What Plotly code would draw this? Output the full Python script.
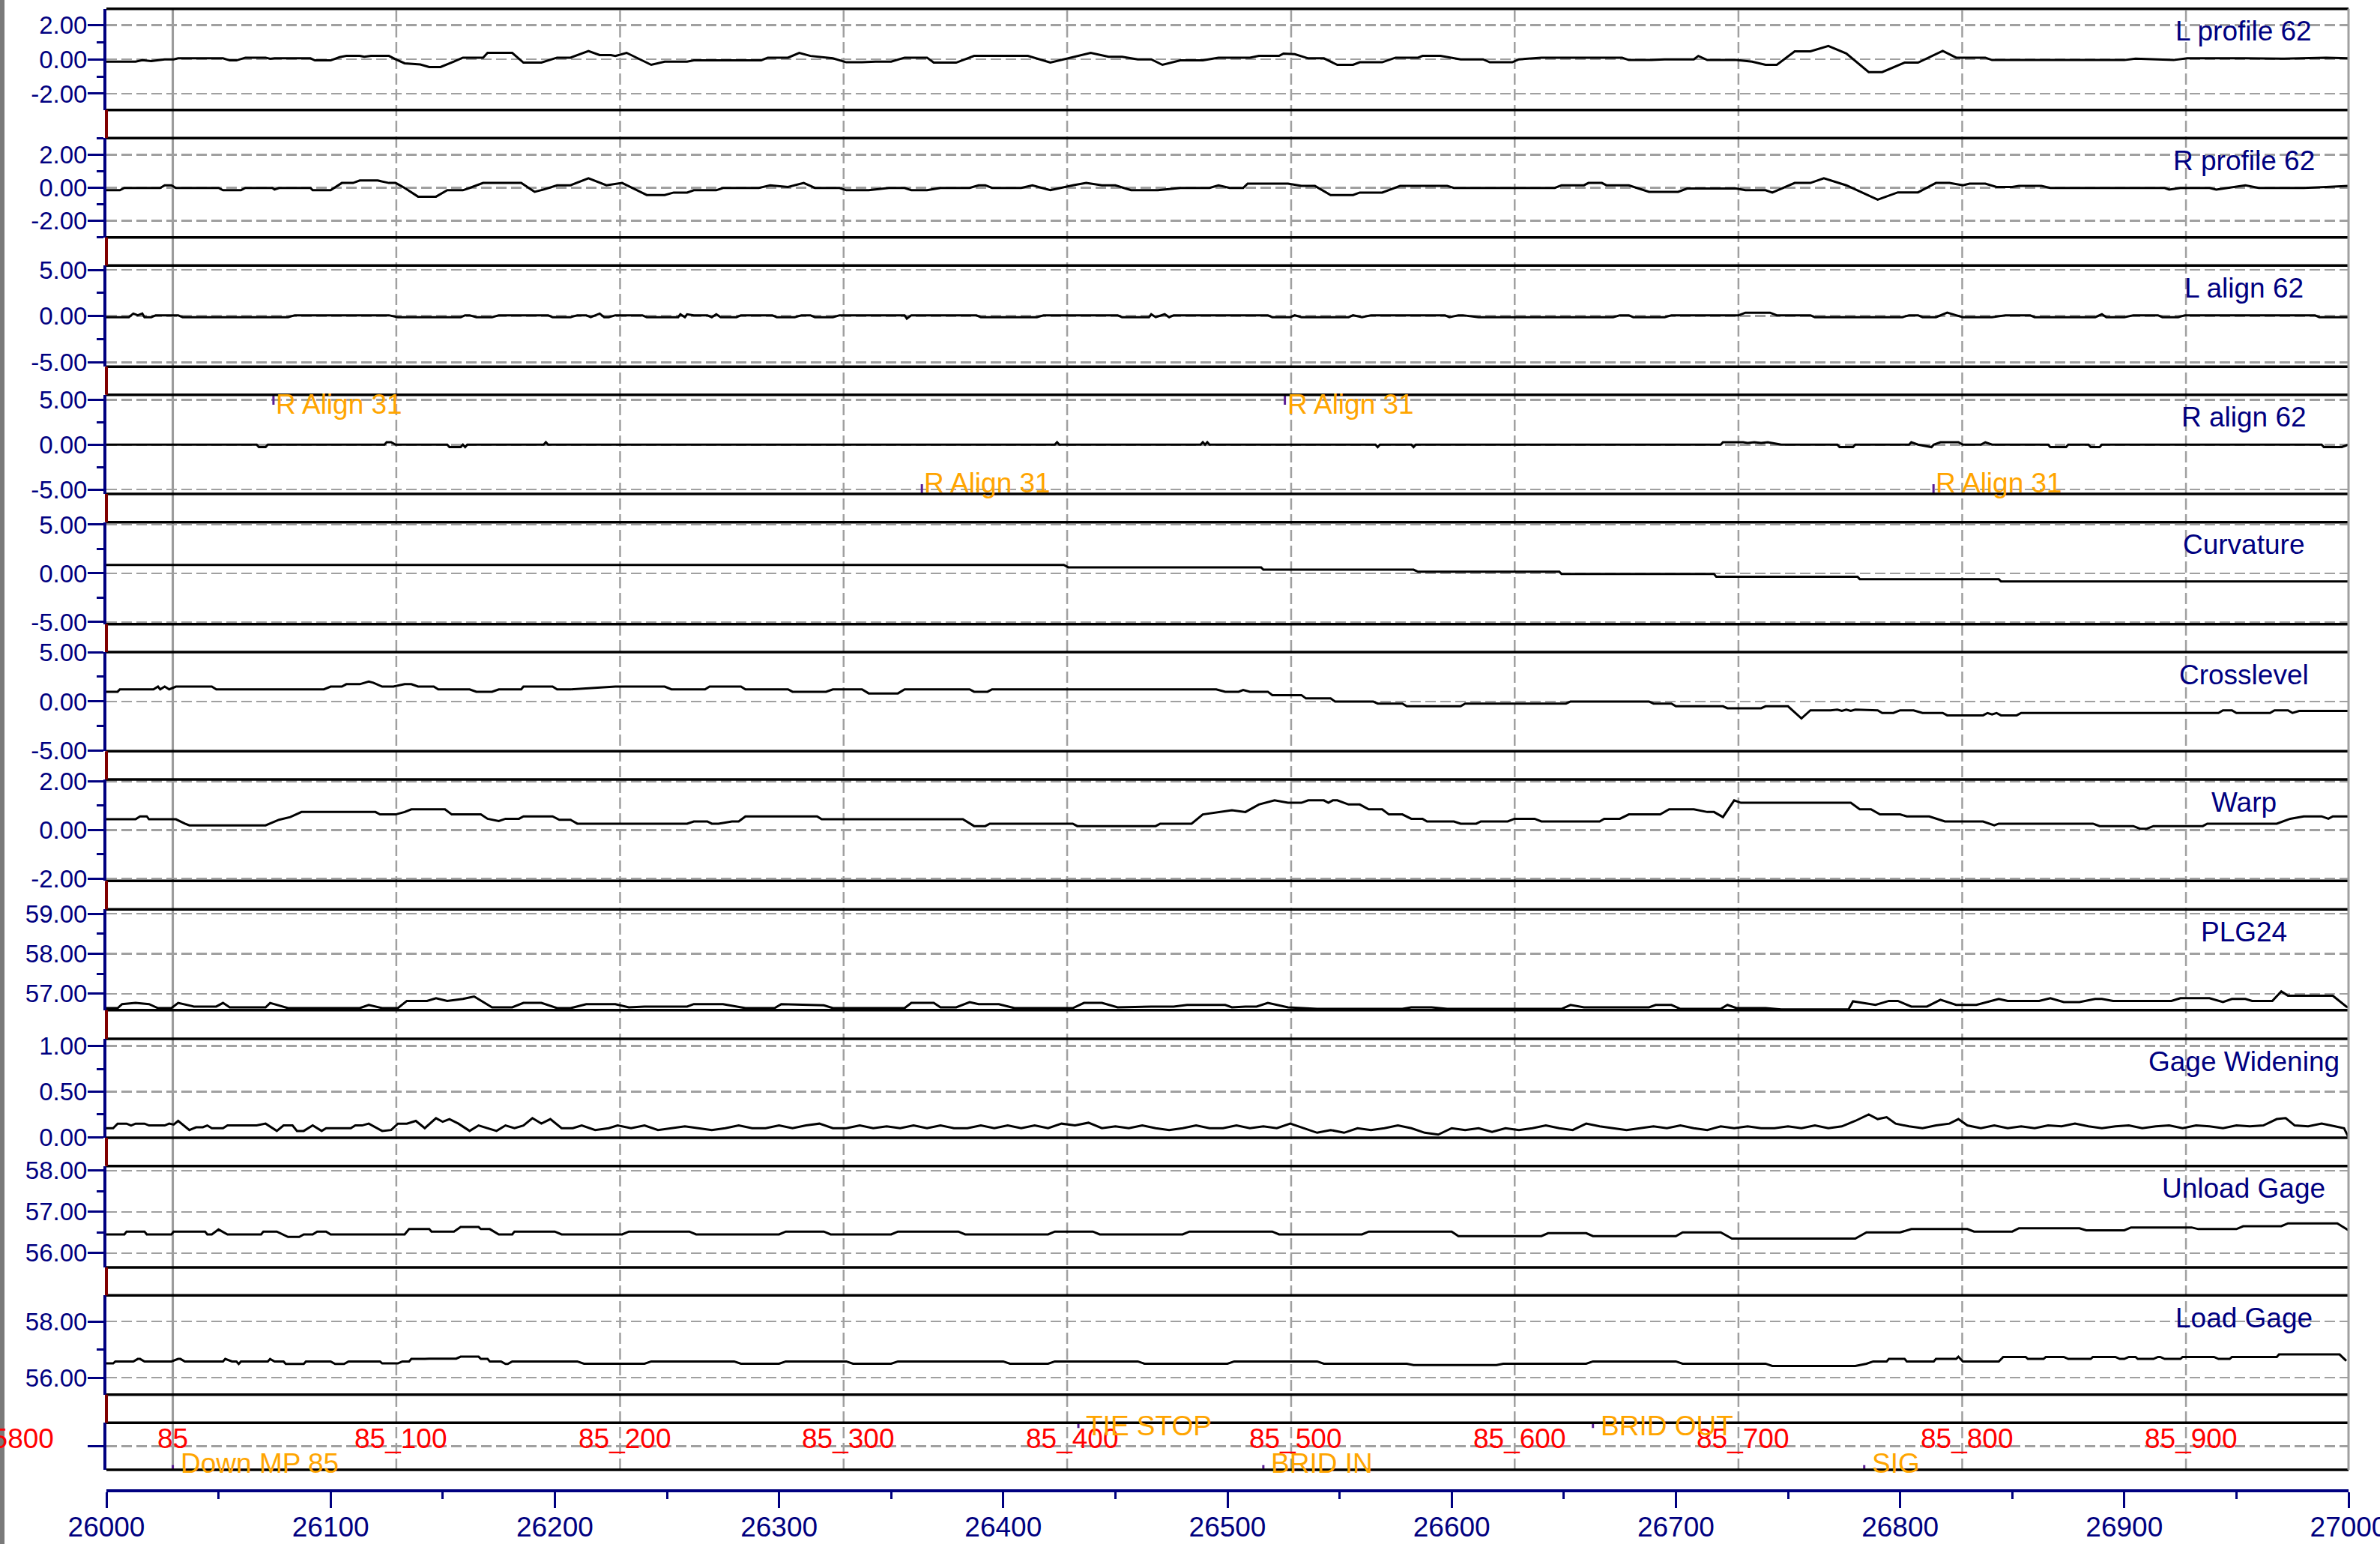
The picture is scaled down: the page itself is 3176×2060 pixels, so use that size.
import plotly.graph_objects as go

# ---------------- data ----------------
x_range = [26000, 27000]
x_tick_vals = list(range(26000, 27001, 100))

milepost_x = [26029.6, 26129.3, 26229.1, 26328.8, 26428.5, 26528.4, 26628.1, 26727.9, 26827.7, 26927.5]
milepost_labels = ["85", "85_100", "85_200", "85_300", "85_400", "85_500", "85_600", "85_700", "85_800", "85_900"]

panel_titles = ["L profile 62", "R profile 62", "L align 62", "R align 62", "Curvature", "Crosslevel",
                "Warp", "PLG24", "Gage Widening", "Unload Gage", "Load Gage"]

l_profile = [[26000,-0.13],[26013,-0.13],[26016,-0.05],[26020,-0.1],[26026,0.0],[26030,0.0],[26032,0.06],[26052,0.06],[26055,-0.06],[26058,-0.06],[26062,0.1],[26071,0.1],[26073,0.03],[26075,0.06],[26091,0.06],[26093,-0.06],[26100,-0.06],[26104,0.13],[26107,0.2],[26113,0.2],[26115,0.15],[26118,0.2],[26126,0.2],[26129,0.0],[26133,-0.23],[26140,-0.3],[26144,-0.45],[26149,-0.45],[26155,-0.13],[26159,0.1],[26168,0.1],[26170,0.38],[26181,0.38],[26186,-0.19],[26194,-0.19],[26201,0.1],[26207,0.1],[26215,0.49],[26220,0.25],[26225,0.25],[26227,0.2],[26232,0.38],[26243,-0.32],[26249,-0.13],[26259,-0.13],[26262,-0.06],[26292,-0.06],[26295,0.1],[26304,0.1],[26309,0.38],[26314,0.2],[26324,0.06],[26330,-0.17],[26337,-0.17],[26343,-0.13],[26350,-0.13],[26356,0.1],[26366,0.1],[26369,-0.19],[26379,-0.19],[26387,0.2],[26411,0.2],[26421,-0.19],[26431,0.13],[26439,0.38],[26447,0.15],[26453,0.15],[26460,0.0],[26466,0.0],[26471,-0.32],[26479,-0.06],[26489,-0.06],[26496,0.1],[26510,0.1],[26514,0.2],[26523,0.2],[26525,0.34],[26530,0.3],[26536,0.06],[26543,0.06],[26549,-0.32],[26556,-0.32],[26559,-0.17],[26569,-0.17],[26575,0.1],[26585,0.1],[26587,0.2],[26595,0.2],[26604,0.0],[26614,0.0],[26617,-0.17],[26627,-0.17],[26630,0.0],[26640,0.1],[26676,0.1],[26679,-0.04],[26689,-0.04],[26695,0.0],[26708,0.0],[26710,0.2],[26714,-0.04],[26727,-0.04],[26734,-0.13],[26740,-0.32],[26745,-0.32],[26753,0.47],[26760,0.47],[26768,0.78],[26776,0.34],[26786,-0.74],[26792,-0.74],[26802,-0.19],[26808,-0.19],[26819,0.49],[26825,0.1],[26838,0.1],[26841,-0.04],[26900,-0.04],[26905,0.04],[26922,-0.04],[26928,0.06],[26954,0.06],[26970,0.04],[26990,0.1],[27000,0.06]]

r_profile = [[26000,-0.14],[26006,-0.14],[26008,0],[26024,0],[26026,0.16],[26029,0.16],[26031,0],[26050,0],[26052,-0.14],[26060,-0.14],[26062,0],[26074,0],[26075,-0.1],[26077,0],[26091,0],[26092,-0.14],[26100,-0.14],[26105,0.3],[26110,0.3],[26113,0.45],[26121,0.45],[26126,0.3],[26129,0.3],[26133,0],[26139,-0.53],[26147,-0.53],[26152,-0.14],[26159,-0.14],[26162,0],[26168,0.3],[26185,0.3],[26191,-0.24],[26195,-0.1],[26201,0.16],[26207,0.16],[26215,0.59],[26223,0.16],[26230,0.3],[26241,-0.43],[26249,-0.43],[26253,-0.28],[26259,-0.28],[26262,-0.14],[26272,-0.14],[26275,0],[26291,0],[26296,0.16],[26304,0.06],[26311,0.3],[26316,0],[26327,0],[26330,-0.14],[26340,-0.14],[26349,0],[26356,0],[26359,-0.14],[26366,-0.14],[26372,0],[26385,0],[26389,0.16],[26392,0.16],[26395,0],[26408,0],[26413,0.16],[26421,-0.14],[26431,0.16],[26437,0.3],[26444,0.16],[26450,0.16],[26457,-0.14],[26469,-0.14],[26479,0],[26492,0],[26496,0.16],[26501,0],[26507,0],[26509,0.26],[26527,0.26],[26533,0.12],[26539,0.12],[26546,-0.43],[26556,-0.43],[26559,-0.28],[26569,-0.28],[26577,0.12],[26598,0.12],[26601,0],[26646,0],[26649,0.16],[26659,0.16],[26661,0.3],[26667,0.3],[26669,0.16],[26679,0.16],[26688,-0.24],[26701,-0.24],[26705,-0.04],[26727,-0.04],[26731,-0.14],[26740,-0.14],[26743,-0.28],[26753,0.3],[26760,0.3],[26766,0.59],[26776,0.16],[26790,-0.71],[26799,-0.27],[26808,-0.27],[26816,0.3],[26822,0.3],[26828,0.16],[26831,0.26],[26838,0.26],[26843,0.06],[26850,0.06],[26853,0.12],[26863,0.12],[26867,0],[26918,0],[26920,-0.1],[26925,0],[26938,0],[26941,-0.1],[26954,0.16],[26960,0],[26980,0],[26990,0.06],[27000,0.12]]

l_align = [[26000,-0.12],[26010,-0.12],[26012,0.27],[26014,0.09],[26016,0.27],[26017,-0.12],[26020,-0.12],[26022,0.09],[26032,0.09],[26034,-0.12],[26081,-0.12],[26084,0.09],[26126,0.09],[26130,-0.12],[26158,-0.12],[26160,0.09],[26162,0.09],[26165,-0.12],[26172,-0.12],[26175,0.09],[26197,0.09],[26199,-0.12],[26207,-0.12],[26210,0.09],[26214,0.09],[26216,-0.12],[26220,0.27],[26222,-0.12],[26224,-0.12],[26227,0.09],[26239,0.09],[26241,-0.12],[26255,-0.12],[26256,0.2],[26258,-0.12],[26259,0.2],[26262,0.09],[26268,0.09],[26270,-0.12],[26272,0.2],[26274,-0.12],[26281,-0.12],[26283,0.09],[26297,0.09],[26299,-0.12],[26307,-0.12],[26310,0.09],[26314,0.09],[26316,-0.12],[26324,-0.12],[26327,0.09],[26356,0.09],[26357,-0.27],[26359,0.09],[26388,0.09],[26390,-0.12],[26415,-0.12],[26418,0.09],[26451,0.09],[26453,-0.12],[26465,-0.12],[26466,0.2],[26468,-0.12],[26472,0.2],[26474,-0.12],[26476,0.09],[26518,0.09],[26520,-0.12],[26528,-0.12],[26530,0.09],[26533,-0.12],[26554,-0.12],[26556,0.09],[26560,-0.12],[26564,0.09],[26597,0.09],[26599,-0.12],[26603,0.09],[26605,0.09],[26612,-0.12],[26672,-0.12],[26675,0.09],[26679,0.09],[26681,-0.12],[26695,-0.12],[26698,0.09],[26728,0.09],[26731,0.37],[26742,0.37],[26745,0.09],[26760,0.09],[26762,-0.12],[26801,-0.12],[26804,0.09],[26808,0.09],[26810,-0.12],[26816,-0.12],[26821,0.37],[26825,0.09],[26828,-0.12],[26841,-0.12],[26847,0.09],[26858,0.09],[26860,-0.12],[26887,-0.12],[26890,0.2],[26892,-0.12],[26900,-0.12],[26904,0.09],[26915,0.09],[26917,-0.12],[26924,-0.12],[26927,0.09],[26985,0.09],[26987,-0.12],[27000,-0.12]]

r_align = [[26000,0],[26067,0],[26068,-0.27],[26071,-0.27],[26072,0],[26124,0],[26125,0.27],[26127,0.27],[26129,0],[26152,0],[26153,-0.27],[26158,-0.27],[26159,0],[26160,-0.27],[26161,0],[26195,0],[26196,0.27],[26197,0],[26423,0],[26424,0.27],[26425,0],[26488,0],[26489,0.27],[26490,0],[26491,0.27],[26492,0],[26566,0],[26567,-0.27],[26568,0],[26582,0],[26583,-0.27],[26584,0],[26720,0],[26721,0.27],[26730,0.27],[26732,0.2],[26735,0.27],[26738,0.2],[26741,0.27],[26747,0],[26772,0],[26773,-0.27],[26779,-0.27],[26780,0],[26804,0],[26805,0.27],[26808,0],[26814,-0.27],[26815,0],[26818,0.27],[26826,0.27],[26828,0],[26836,0],[26838,0.27],[26841,0],[26866,0],[26867,-0.27],[26874,-0.27],[26875,0],[26884,0],[26885,-0.27],[26889,-0.27],[26890,0],[26988,0],[26989,-0.27],[26997,-0.27],[27000,0]]

curvature = [[26000,0.86],[26427,0.86],[26429,0.62],[26515,0.62],[26516,0.38],[26583,0.38],[26585,0.17],[26648,0.17],[26649,-0.07],[26717,-0.07],[26718,-0.34],[26781,-0.34],[26782,-0.59],[26844,-0.59],[26845,-0.83],[27000,-0.83]]

crosslevel = [[26000,0.99],[26005,0.99],[26006,1.23],[26021,1.23],[26023,1.51],[26024,1.23],[26026,1.51],[26028,1.23],[26031,1.51],[26047,1.51],[26049,1.23],[26097,1.23],[26100,1.51],[26105,1.51],[26107,1.75],[26113,1.75],[26117,2.02],[26119,1.9],[26123,1.51],[26128,1.51],[26133,1.75],[26136,1.75],[26139,1.51],[26146,1.51],[26148,1.23],[26162,1.23],[26165,0.99],[26172,0.99],[26175,1.23],[26185,1.23],[26186,1.51],[26199,1.51],[26201,1.23],[26207,1.23],[26227,1.51],[26249,1.51],[26252,1.23],[26267,1.23],[26269,1.51],[26283,1.51],[26285,1.23],[26304,1.23],[26306,0.99],[26321,0.99],[26324,1.23],[26337,1.23],[26340,0.82],[26353,0.82],[26356,1.23],[26385,1.23],[26387,0.99],[26393,0.99],[26395,1.23],[26495,1.23],[26499,0.99],[26505,0.99],[26507,1.16],[26510,0.99],[26518,0.99],[26520,0.65],[26533,0.65],[26535,0.31],[26546,0.31],[26548,0],[26565,0],[26567,-0.21],[26578,-0.21],[26580,-0.48],[26604,-0.48],[26606,-0.21],[26651,-0.21],[26653,0],[26688,0],[26690,-0.21],[26698,-0.21],[26700,-0.48],[26721,-0.48],[26723,-0.68],[26738,-0.68],[26740,-0.48],[26750,-0.48],[26756,-1.71],[26760,-0.89],[26769,-0.89],[26772,-0.82],[26774,-0.95],[26776,-0.82],[26778,-0.95],[26780,-0.82],[26790,-0.89],[26792,-1.16],[26797,-1.16],[26800,-0.89],[26806,-0.89],[26810,-1.16],[26819,-1.16],[26821,-1.4],[26837,-1.4],[26839,-1.16],[26841,-1.3],[26843,-1.16],[26845,-1.4],[26852,-1.4],[26854,-1.16],[26942,-1.16],[26944,-0.89],[26948,-0.89],[26950,-1.16],[26965,-1.16],[26967,-0.89],[26973,-0.89],[26975,-1.16],[26978,-0.96],[27000,-0.96]]

warp = [[26000,0.44],[26013,0.44],[26015,0.56],[26018,0.56],[26019,0.44],[26031,0.44],[26035,0.26],[26037,0.19],[26071,0.19],[26074,0.3],[26077,0.42],[26082,0.53],[26087,0.74],[26120,0.74],[26122,0.64],[26129,0.64],[26133,0.74],[26136,0.85],[26151,0.85],[26154,0.64],[26167,0.64],[26170,0.46],[26175,0.37],[26178,0.46],[26184,0.46],[26186,0.56],[26199,0.56],[26202,0.42],[26207,0.42],[26210,0.26],[26259,0.26],[26262,0.35],[26268,0.35],[26270,0.26],[26273,0.26],[26279,0.35],[26282,0.35],[26285,0.56],[26317,0.56],[26319,0.44],[26382,0.44],[26387,0.16],[26392,0.16],[26394,0.26],[26431,0.26],[26433,0.16],[26468,0.16],[26470,0.26],[26484,0.26],[26489,0.64],[26496,0.74],[26502,0.81],[26508,0.74],[26514,1.05],[26521,1.22],[26527,1.12],[26533,1.12],[26536,1.22],[26543,1.22],[26545,1.12],[26547,1.22],[26549,1.22],[26554,1.05],[26559,1.05],[26563,0.85],[26569,0.85],[26572,0.64],[26578,0.64],[26582,0.46],[26587,0.46],[26589,0.35],[26601,0.35],[26604,0.26],[26611,0.26],[26613,0.35],[26625,0.35],[26628,0.46],[26637,0.46],[26640,0.35],[26666,0.35],[26668,0.46],[26675,0.46],[26679,0.64],[26693,0.64],[26697,0.85],[26708,0.85],[26714,0.74],[26717,0.74],[26721,0.53],[26726,1.22],[26729,1.12],[26778,1.12],[26782,0.85],[26787,0.85],[26791,0.64],[26800,0.64],[26803,0.56],[26813,0.56],[26820,0.35],[26837,0.35],[26842,0.19],[26844,0.26],[26886,0.26],[26889,0.16],[26904,0.16],[26907,0.05],[26910,0.05],[26913,0.16],[26935,0.16],[26937,0.26],[26968,0.26],[26974,0.46],[26980,0.56],[26988,0.56],[26991,0.46],[26993,0.56],[27000,0.56]]

plg24 = [[26000,56.64],[26005,56.64],[26007,56.74],[26013,56.77],[26019,56.74],[26023,56.64],[26029,56.64],[26032,56.77],[26039,56.68],[26049,56.68],[26052,56.77],[26055,56.66],[26071,56.66],[26073,56.77],[26081,56.64],[26113,56.64],[26117,56.72],[26123,56.64],[26130,56.64],[26134,56.82],[26143,56.82],[26147,56.89],[26152,56.82],[26159,56.87],[26164,56.93],[26172,56.66],[26181,56.66],[26186,56.77],[26194,56.77],[26201,56.64],[26207,56.64],[26214,56.74],[26227,56.74],[26233,56.66],[26240,56.68],[26259,56.68],[26262,56.74],[26275,56.74],[26285,56.64],[26298,56.64],[26301,56.74],[26320,56.71],[26324,56.64],[26356,56.64],[26359,56.77],[26369,56.77],[26372,56.66],[26379,56.66],[26385,56.79],[26389,56.74],[26398,56.74],[26405,56.64],[26431,56.64],[26436,56.77],[26444,56.77],[26451,56.66],[26466,56.68],[26476,56.68],[26482,56.72],[26499,56.72],[26502,56.66],[26508,56.68],[26513,56.68],[26518,56.77],[26527,56.66],[26540,56.62],[26578,56.62],[26582,56.66],[26591,56.66],[26598,56.62],[26649,56.62],[26653,56.72],[26659,56.66],[26688,56.66],[26691,56.72],[26698,56.72],[26702,56.62],[26720,56.62],[26723,56.72],[26727,56.64],[26740,56.64],[26747,56.61],[26777,56.61],[26779,56.81],[26789,56.72],[26795,56.82],[26799,56.82],[26805,56.68],[26812,56.68],[26818,56.85],[26825,56.72],[26834,56.72],[26844,56.87],[26848,56.82],[26862,56.82],[26867,56.89],[26873,56.79],[26880,56.79],[26887,56.87],[26890,56.87],[26895,56.82],[26921,56.82],[26925,56.89],[26938,56.89],[26944,56.79],[26948,56.87],[26954,56.87],[26957,56.82],[26966,56.82],[26970,57.06],[26973,56.95],[26993,56.95],[26999,56.68],[27000,56.66]]

gage_widening = [[26000,0.10],[26003,0.10],[26005,0.15],[26009,0.15],[26011,0.13],[26013,0.15],[26017,0.15],[26019,0.13],[26026,0.13],[26028,0.15],[26030,0.14],[26032,0.18],[26037,0.08],[26040,0.11],[26043,0.11],[26045,0.13],[26047,0.10],[26052,0.10],[26054,0.13],[26067,0.13],[26071,0.15],[26076,0.07],[26079,0.13],[26083,0.13],[26085,0.07],[26088,0.07],[26092,0.13],[26096,0.07],[26098,0.10],[26109,0.10],[26111,0.13],[26114,0.13],[26117,0.15],[26123,0.07],[26127,0.08],[26130,0.15],[26134,0.15],[26138,0.18],[26142,0.10],[26147,0.21],[26150,0.17],[26153,0.2],[26157,0.15],[26162,0.07],[26166,0.13],[26170,0.10],[26174,0.07],[26178,0.13],[26182,0.10],[26186,0.13],[26190,0.21],[26194,0.15],[26198,0.2],[26203,0.1],[26208,0.1],[26212,0.13],[26218,0.08],[26224,0.1],[26228,0.13],[26234,0.1],[26240,0.13],[26246,0.08],[26252,0.1],[26258,0.12],[26264,0.1],[26270,0.08],[26276,0.1],[26282,0.13],[26288,0.1],[26294,0.1],[26300,0.13],[26306,0.1],[26312,0.13],[26318,0.15],[26324,0.1],[26330,0.1],[26336,0.13],[26342,0.1],[26348,0.12],[26354,0.1],[26360,0.13],[26366,0.1],[26372,0.13],[26378,0.1],[26384,0.1],[26390,0.13],[26396,0.1],[26402,0.13],[26408,0.1],[26414,0.13],[26420,0.1],[26426,0.15],[26432,0.13],[26438,0.16],[26444,0.1],[26450,0.12],[26456,0.1],[26462,0.13],[26468,0.1],[26474,0.08],[26480,0.1],[26486,0.13],[26492,0.1],[26498,0.1],[26504,0.13],[26510,0.1],[26516,0.12],[26522,0.1],[26528,0.15],[26534,0.1],[26540,0.05],[26546,0.08],[26552,0.05],[26558,0.1],[26564,0.08],[26570,0.1],[26576,0.13],[26582,0.1],[26588,0.05],[26594,0.03],[26600,0.1],[26606,0.08],[26612,0.1],[26618,0.06],[26624,0.1],[26630,0.08],[26636,0.1],[26642,0.13],[26648,0.1],[26654,0.08],[26660,0.15],[26666,0.12],[26672,0.1],[26678,0.08],[26684,0.1],[26690,0.12],[26696,0.1],[26702,0.13],[26708,0.1],[26714,0.08],[26720,0.12],[26726,0.1],[26732,0.12],[26738,0.1],[26744,0.1],[26750,0.12],[26756,0.1],[26762,0.13],[26768,0.1],[26774,0.12],[26780,0.18],[26786,0.25],[26790,0.2],[26794,0.22],[26798,0.15],[26804,0.12],[26810,0.1],[26816,0.13],[26822,0.15],[26826,0.2],[26830,0.13],[26836,0.1],[26842,0.13],[26848,0.1],[26854,0.12],[26860,0.1],[26866,0.13],[26872,0.12],[26878,0.15],[26884,0.12],[26890,0.1],[26896,0.12],[26902,0.13],[26908,0.1],[26914,0.12],[26920,0.13],[26926,0.1],[26932,0.13],[26938,0.12],[26944,0.1],[26950,0.13],[26956,0.12],[26962,0.13],[26968,0.2],[26972,0.21],[26976,0.13],[26982,0.12],[26988,0.15],[26994,0.12],[26998,0.1],[27000,0.0]]

unload_gage = [[26000,56.45],[26008,56.45],[26009,56.52],[26017,56.52],[26018,56.45],[26029,56.45],[26030,56.52],[26044,56.52],[26045,56.45],[26047,56.45],[26050,56.57],[26054,56.45],[26069,56.45],[26070,56.52],[26076,56.52],[26081,56.39],[26086,56.39],[26088,56.45],[26092,56.45],[26094,56.52],[26098,56.52],[26100,56.45],[26133,56.45],[26135,56.58],[26144,56.58],[26145,56.52],[26155,56.52],[26158,56.63],[26166,56.63],[26167,56.58],[26171,56.58],[26175,56.45],[26181,56.45],[26182,56.52],[26200,56.52],[26203,56.45],[26230,56.45],[26233,56.52],[26260,56.52],[26263,56.45],[26300,56.45],[26303,56.52],[26320,56.52],[26323,56.45],[26350,56.45],[26353,56.52],[26380,56.52],[26383,56.45],[26420,56.45],[26423,56.52],[26440,56.52],[26443,56.45],[26480,56.45],[26483,56.52],[26520,56.52],[26523,56.45],[26560,56.45],[26563,56.52],[26600,56.52],[26603,56.41],[26640,56.41],[26643,56.48],[26660,56.48],[26663,56.41],[26700,56.41],[26703,56.5],[26720,56.5],[26725,56.35],[26780,56.35],[26785,56.5],[26800,56.5],[26805,56.58],[26830,56.58],[26833,56.52],[26850,56.52],[26853,56.6],[26880,56.6],[26883,56.55],[26900,56.55],[26903,56.62],[26930,56.62],[26933,56.58],[26950,56.58],[26953,56.65],[26970,56.65],[26973,56.72],[26995,56.72],[27000,56.55]]

load_gage = [[26000,56.51],[26003,56.51],[26004,56.58],[26012,56.58],[26014,56.67],[26015,56.67],[26017,56.58],[26029,56.58],[26032,56.67],[26033,56.67],[26035,56.58],[26052,56.58],[26053,56.67],[26056,56.58],[26058,56.58],[26059,56.49],[26060,56.58],[26072,56.58],[26073,56.67],[26075,56.58],[26079,56.58],[26080,56.49],[26088,56.49],[26089,56.58],[26100,56.58],[26102,56.49],[26106,56.49],[26108,56.58],[26122,56.58],[26123,56.51],[26130,56.51],[26132,56.58],[26135,56.58],[26136,56.67],[26142,56.67],[26144,56.68],[26156,56.68],[26158,56.75],[26166,56.75],[26167,56.67],[26170,56.67],[26171,56.58],[26176,56.58],[26178,56.49],[26179,56.49],[26181,56.58],[26210,56.58],[26213,56.5],[26240,56.5],[26243,56.58],[26280,56.58],[26283,56.5],[26300,56.5],[26303,56.58],[26330,56.58],[26333,56.5],[26350,56.5],[26353,56.58],[26400,56.58],[26403,56.5],[26420,56.5],[26423,56.58],[26460,56.58],[26463,56.5],[26500,56.5],[26503,56.58],[26540,56.58],[26543,56.5],[26580,56.5],[26583,56.45],[26620,56.45],[26623,56.5],[26660,56.5],[26663,56.58],[26700,56.58],[26703,56.5],[26740,56.5],[26743,56.42],[26780,56.42],[26785,56.5],[26788,56.58],[26794,56.58],[26795,56.67],[26802,56.67],[26803,56.58],[26815,56.58],[26816,56.67],[26825,56.67],[26826,56.75],[26828,56.58],[26844,56.58],[26846,56.74],[26856,56.74],[26857,56.67],[26864,56.67],[26865,56.74],[26873,56.74],[26875,56.67],[26885,56.67],[26886,56.74],[26896,56.74],[26898,56.67],[26900,56.67],[26902,56.74],[26905,56.74],[26906,56.67],[26913,56.67],[26915,56.74],[26916,56.74],[26918,56.67],[26925,56.67],[26926,56.74],[26940,56.74],[26942,56.67],[26947,56.67],[26948,56.74],[26968,56.74],[26969,56.83],[26996,56.83],[26999,56.6]]

series_list = [l_profile, r_profile, l_align, r_align, curvature, crosslevel, warp, plg24,
               gage_widening, unload_gage, load_gage]

panel_ranges = [[-2.95, 2.95], [-3.0, 3.02], [-5.48, 5.47], [-5.48, 5.55], [-5.21, 5.25], [-5.03, 5.0],
                [-2.1, 2.08], [56.59, 59.11], [-0.005, 1.08], [55.65, 58.11], [55.40, 58.93], [0, 1]]
panel_ticks = [[-2, 0, 2], [-2, 0, 2], [-5, 0, 5], [-5, 0, 5], [-5, 0, 5], [-5, 0, 5],
               [-2, 0, 2], [57, 58, 59], [0, 0.5, 1], [56, 57, 58], [56, 58], [0.5]]
panel_minor = [1, 1, 2.5, 2.5, 2.5, 2.5, 1, 0.5, 0.25, 0.5, 1, None]

ralign_x = [26074.5, 26363.7, 26525.6, 26814.9]
ralign_pos = ["top", "bottom", "top", "bottom"]
ralign_label = "R Align 31"

event_x = [26029.6, 26433.5, 26516.0, 26663.0, 26784.0]
event_labels = ["Down MP 85", "TIE STOP", "BRID IN", "BRID OUT", "SIG"]
event_pos = ["bottom", "top", "bottom", "top", "bottom"]

# ---------------- layout geometry (pixels) ----------------
W, H = 3176, 2060
PLOT_L, PLOT_R = 142, 3134
panel_px = [(11.7, 146.7), (184.3, 316.7), (354.3, 489.3), (526.7, 659.0), (696.7, 832.7), (870.0, 1002.3),
            (1040.0, 1175.3), (1213.3, 1347.7), (1386.0, 1518.0), (1555.7, 1691.0), (1728.3, 1860.7),
            (1898.3, 1961.0)]
XAXIS_PX = 1989

NAVY = "#000080"
MAROON = "#800000"
GRID = "#A0A0A0"
ORANGE = "#FFA500"
PURPLE = "#5A1E96"
RED = "#FF0000"
FONT = "Liberation Sans, Arial, sans-serif"


def py(px):
    return 1 - px / H


def px_paper_x(px):
    return (px - PLOT_L) / (PLOT_R - PLOT_L)


def yname(i):
    return "y" if i == 0 else f"y{i + 1}"


def ylayout(i):
    return "yaxis" if i == 0 else f"yaxis{i + 1}"


fig = go.Figure()

for i, s in enumerate(series_list):
    fig.add_trace(go.Scatter(
        x=[p[0] for p in s], y=[p[1] for p in s], mode="lines",
        line=dict(color="black", width=3), xaxis="x", yaxis=yname(i),
        showlegend=False, hoverinfo="skip"))

r4 = panel_ranges[3]
for xv, pos in zip(ralign_x, ralign_pos):
    yy = [r4[1], 4.45] if pos == "top" else [-4.4, r4[0]]
    fig.add_trace(go.Scatter(x=[xv, xv], y=yy, mode="lines", line=dict(color=PURPLE, width=3),
                             xaxis="x", yaxis="y4", showlegend=False, hoverinfo="skip"))

for xv, pos in zip(event_x, event_pos):
    yy = [1.0, 0.89] if pos == "top" else [0.1, 0.0]
    fig.add_trace(go.Scatter(x=[xv, xv], y=yy, mode="lines", line=dict(color=PURPLE, width=3),
                             xaxis="x", yaxis="y12", showlegend=False, hoverinfo="skip"))

layout = dict(
    width=W, height=H, margin=dict(l=PLOT_L, r=W - PLOT_R, t=0, b=0, pad=0, autoexpand=False),
    paper_bgcolor="white", plot_bgcolor="white", showlegend=False,
    font=dict(family=FONT, color=NAVY),
    xaxis=dict(domain=[0, 1], range=x_range, anchor="free", position=py(XAXIS_PX), automargin=False,
               tickmode="array", tickvals=x_tick_vals, ticktext=[str(v) for v in x_tick_vals],
               ticks="outside", ticklen=21, tickwidth=3, tickcolor=NAVY,
               showline=True, linecolor=NAVY, linewidth=4, showgrid=False, zeroline=False,
               tickfont=dict(size=37, color=NAVY, family=FONT),
               ticklabeloverflow="allow", ticklabelstandoff=-6,
               minor=dict(tick0=26050, dtick=100, ticks="outside", ticklen=9, tickwidth=3,
                          tickcolor=NAVY, showgrid=False),
               fixedrange=True),
)

for i in range(12):
    top, bot = panel_px[i]
    ax = dict(domain=[py(bot), py(top)], range=panel_ranges[i], anchor="x", automargin=False,
              tickmode="array", tickvals=panel_ticks[i],
              ticktext=([f"{v:.2f}" for v in panel_ticks[i]] if i < 11 else [""]),
              ticks="outside", ticklen=21, tickwidth=3, tickcolor=NAVY,
              showline=True, linecolor=NAVY, linewidth=4,
              showgrid=True, gridcolor=GRID, gridwidth=2.5, griddash="14px,6px",
              zeroline=False, tickfont=dict(size=33, color=NAVY, family=FONT),
              ticklabeloverflow="allow", ticklabelstandoff=-6,
              fixedrange=True)
    if panel_minor[i]:
        ax["minor"] = dict(tick0=panel_ticks[i][0], dtick=panel_minor[i], ticks="outside",
                           ticklen=9, tickwidth=3, tickcolor=NAVY, showgrid=False)
    layout[ylayout(i)] = ax

shapes = []
for k, xv in enumerate(milepost_x):
    shapes.append(dict(type="line", xref="x", yref="paper", x0=xv, x1=xv,
                       y0=py(panel_px[-1][1]), y1=py(panel_px[0][0]),
                       line=dict(color="#999999" if k == 0 else GRID, width=3 if k == 0 else 2.5,
                                 dash="solid" if k == 0 else "15px,6px"),
                       layer="below"))
for top, bot in panel_px:
    for yy in (top, bot):
        shapes.append(dict(type="line", xref="paper", yref="paper", x0=0, x1=1, y0=py(yy), y1=py(yy),
                           line=dict(color="black", width=3.5), layer="above"))
for k in range(11):
    shapes.append(dict(type="line", xref="paper", yref="paper", x0=0, x1=0,
                       y0=py(panel_px[k][1]), y1=py(panel_px[k + 1][0]),
                       line=dict(color=MAROON, width=4), layer="above"))
shapes.append(dict(type="line", xref="paper", yref="paper", x0=1, x1=1,
                   y0=py(panel_px[-1][1]), y1=py(panel_px[0][0]),
                   line=dict(color=GRID, width=3), layer="above"))
shapes.append(dict(type="rect", xref="paper", yref="paper", x0=px_paper_x(0), x1=px_paper_x(6),
                   y0=0, y1=1, fillcolor="#7A7A7A", line=dict(width=0), layer="above"))
layout["shapes"] = shapes

annotations = []
for i, t in enumerate(panel_titles):
    annotations.append(dict(text=t, xref="paper", x=px_paper_x(2994), xanchor="center",
                            yref=f"{yname(i)} domain", y=1, yshift=-30, yanchor="middle",
                            showarrow=False, font=dict(size=37, color=NAVY, family=FONT)))
for xv, pos in zip(ralign_x, ralign_pos):
    annotations.append(dict(text=ralign_label, xref="x", x=xv, xanchor="left", xshift=1,
                            yref="y4", y=4.5 if pos == "top" else -4.25, yanchor="middle",
                            showarrow=False, font=dict(size=37, color=ORANGE, family=FONT)))
for xv, lab in zip(milepost_x, milepost_labels):
    annotations.append(dict(text=lab, xref="x", x=xv, xanchor="center", xshift=(0 if lab == "85" else 6),
                            yref="y12", y=0.66, yanchor="middle",
                            showarrow=False, font=dict(size=37, color=RED, family=FONT)))
annotations.append(dict(text="25800", xref="paper", x=px_paper_x(74), xanchor="right",
                        yref="y12", y=0.66, yanchor="middle", showarrow=False,
                        font=dict(size=37, color=RED, family=FONT)))
for xv, lab, pos in zip(event_x, event_labels, event_pos):
    annotations.append(dict(text=lab, xref="x", x=xv, xanchor="left", xshift=8,
                            yref="y12", y=0.94 if pos == "top" else 0.14, yanchor="middle",
                            showarrow=False, font=dict(size=37, color=ORANGE, family=FONT)))
layout["annotations"] = annotations

fig.update_layout(**layout)

post = ("document.documentElement.style.margin='0';document.documentElement.style.overflow='hidden';"
        "document.body.style.margin='0';document.body.style.overflow='hidden';")
fig.write_html("out.html", config={"staticPlot": True}, post_script=post)
